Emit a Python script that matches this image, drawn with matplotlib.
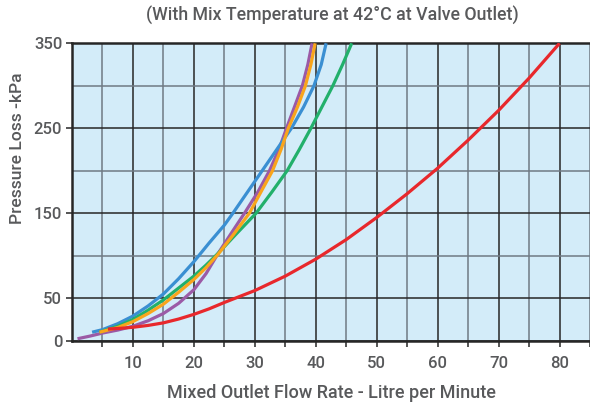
"""Pressure loss vs mixed outlet flow rate, five valve curves (42°C mix)."""

import matplotlib
matplotlib.use("Agg")
import matplotlib.pyplot as plt
from matplotlib.ticker import FixedLocator

# flow (L/min) -> pressure loss (kPa)
red_x = [5.9, 8, 10, 12.5, 15, 17.5, 20, 22.5, 25, 30, 35, 40, 45, 50, 55, 60, 65, 70, 75, 80]
red_y = [13.7, 14.6, 15.8, 18, 21, 25.5, 31, 37.5, 45, 59, 76, 96, 119, 145, 173, 203, 236, 271, 309, 350]

blue_x = [3.3, 5, 7.5, 10, 12.5, 15, 17.5, 20, 22.5, 25, 26.4, 28.8, 31.2, 33.6, 36, 38, 39.7, 40.9, 41.7]
blue_y = [10, 13, 20, 29, 41, 55, 73, 93, 115, 136, 150, 175, 200, 225, 250, 275, 300, 325, 350]

green_x = [4.5, 7.5, 10, 12.5, 15, 17.5, 20, 22, 24, 27, 30.2, 32.8, 35.3, 37.3, 39.2, 41, 42.8, 44.4, 45.9]
green_y = [10, 17, 25, 36, 48, 62, 76, 89, 103, 126, 150, 175, 200, 225, 250, 275, 300, 325, 350]

orange_x = [4.5, 7.5, 10, 12.5, 15, 17.5, 20, 22, 24, 26.5, 29.1, 31, 32.9, 34.3, 35.5, 37, 38.3, 39.2, 39.9]
orange_y = [10, 15.5, 22.5, 32, 43, 57, 72, 86, 102, 125, 150, 175, 200, 225, 250, 275, 300, 325, 350]

purple_x = [0.9, 3, 5, 7.5, 10, 12.5, 15, 17.5, 20, 22, 24, 26, 28.3, 30.5, 32.4, 34, 35.2, 36.5, 37.8, 38.7, 39.4]
purple_y = [2.3, 5.5, 9, 12.5, 17, 23.5, 32, 44, 60, 79, 103, 125, 150, 175, 200, 226, 250, 275, 300, 325, 350]

x_labels = [10, 20, 30, 40, 50, 60, 70, 80]
y_labels = [0, 50, 150, 250, 350]

TXT = "#58595b"
DARK = "#262626"
GREY = "#6f7a84"

plt.rcParams["font.family"] = ["Roboto", "DejaVu Sans"]
plt.rcParams["font.weight"] = "medium"

fig = plt.figure(figsize=(5.9, 4.07), dpi=100)
ax = fig.add_axes([72 / 590, 1 - 340.7 / 407, 1 - 72 / 590, (340.7 - 43.3) / 407])
ax.set_facecolor("#d3ecf9")

lw = 2.3
ax.plot(purple_x, purple_y, color="#9b5aa6", lw=lw, solid_capstyle="butt", zorder=3)
ax.plot(blue_x, blue_y, color="#3a8fd2", lw=lw, solid_capstyle="butt", zorder=3)
ax.plot(green_x, green_y, color="#22b06b", lw=lw, solid_capstyle="butt", zorder=3)
ax.plot(orange_x, orange_y, color="#f9a51c", lw=lw, solid_capstyle="butt", zorder=3)
ax.plot(red_x, red_y, color="#e8282c", lw=lw, solid_capstyle="butt", zorder=3)

ax.set_xlim(0, 85)
ax.set_ylim(0, 350)

ax.xaxis.set_major_locator(FixedLocator(x_labels))
ax.xaxis.set_minor_locator(FixedLocator([5, 15, 25, 35, 45, 55, 65, 75, 85]))
ax.yaxis.set_major_locator(FixedLocator(y_labels))
ax.yaxis.set_minor_locator(FixedLocator([100, 200, 300]))

ax.grid(which="major", color=DARK, lw=1.1, zorder=1)
ax.grid(which="minor", color=GREY, lw=1.1, zorder=1)
ax.set_axisbelow(True)

ax.tick_params(axis="x", which="both", length=4, width=1.1, color=DARK,
               labelsize=12, labelcolor=TXT, pad=7)
ax.tick_params(axis="y", which="major", length=4, width=1.1, color=DARK,
               labelsize=12, labelcolor=TXT, pad=3)
ax.tick_params(axis="y", which="minor", length=0)

for s in ("left", "bottom", "top"):
    ax.spines[s].set_color(DARK)
    ax.spines[s].set_linewidth(1.8)
ax.spines["right"].set_visible(False)

fig.text(0.563, 0.963, "(With Mix Temperature at 42°C at Valve Outlet)",
         ha="center", va="center", fontsize=12.8, color=TXT)
fig.text(0.561, 0.034, "Mixed Outlet Flow Rate - Litre per Minute",
         ha="center", va="center", fontsize=13, color=TXT)
fig.text(0.029, 0.636, "Pressure Loss -kPa", rotation=90,
         ha="center", va="center", fontsize=12.6, color=TXT)

fig.savefig("out.png", dpi=100)
